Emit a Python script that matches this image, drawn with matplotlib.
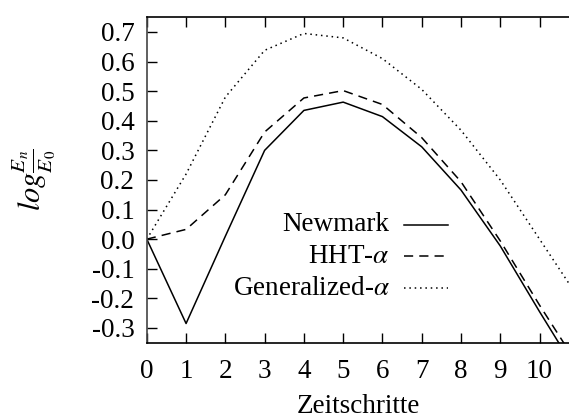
import matplotlib
matplotlib.use("Agg")
import matplotlib.pyplot as plt
import numpy as np

# values (log E_n/E_0 per time step)
steps = [0, 1, 2, 3, 4, 5, 6, 7, 8, 9, 10, 11]
newmark = [0.0, -0.285, 0.01, 0.30, 0.435, 0.463, 0.414, 0.312, 0.166, -0.023, -0.245, -0.46]
hht = [0.0, 0.033, 0.15, 0.362, 0.477, 0.502, 0.455, 0.343, 0.194, -0.006, -0.223, -0.43]
gen_alpha = [0.0, 0.22, 0.48, 0.638, 0.695, 0.68, 0.61, 0.506, 0.368, 0.2, 0.0, -0.2]
labels = ["Newmark", r"HHT-$\alpha$", r"Generalized-$\alpha$"]
yticks = [-0.3, -0.2, -0.1, 0.0, 0.1, 0.2, 0.3, 0.4, 0.5, 0.6, 0.7]

plt.rcParams["font.family"] = "Liberation Serif"
plt.rcParams["mathtext.fontset"] = "stix"
fs = 19.5

fig = plt.figure(figsize=(5.69, 4.19), dpi=100)
ax = fig.add_axes([0.258, 0.182, 0.742, 0.777])

styles = [dict(linestyle="-"), dict(dashes=(6, 4)), dict(dashes=(1, 2.5))]
series = [newmark, hht, gen_alpha]
for s, st in zip(series, styles):
    ax.plot(steps, s, color="black", linewidth=1.1, **st)

ax.set_xlim(0, 10.75)
ax.set_ylim(-0.35, 0.75)
ax.set_xticks(range(0, 11))
ax.set_yticks(yticks)
ax.set_yticklabels(["%.1f" % v for v in yticks])
ax.tick_params(direction="in", length=7, width=1, labelsize=fs, top=True, right=False)
ax.tick_params(axis="x", pad=12)
ax.tick_params(axis="y", pad=9)
ax.spines["right"].set_visible(False)
for sp in ["left", "bottom", "top"]:
    ax.spines[sp].set_linewidth(1.2)
ax.spines["left"].set_color("#444444")

ax.set_xlabel("Zeitschritte", fontsize=fs, labelpad=7)
ax.set_ylabel(r"$log\frac{E_n}{E_0}$", fontsize=22, labelpad=24)

# legend drawn by hand: right-aligned text, sample line to the right
for i, (lab, st) in enumerate(zip(labels, styles)):
    yy = 0.362 - i * 0.097
    ax.text(0.575, yy, lab, transform=ax.transAxes, ha="right", va="center", fontsize=fs)
    ax.plot([0.609, 0.713], [yy, yy], transform=ax.transAxes, color="black",
            linewidth=1.1, **st)

fig.savefig("out.png", dpi=100)
